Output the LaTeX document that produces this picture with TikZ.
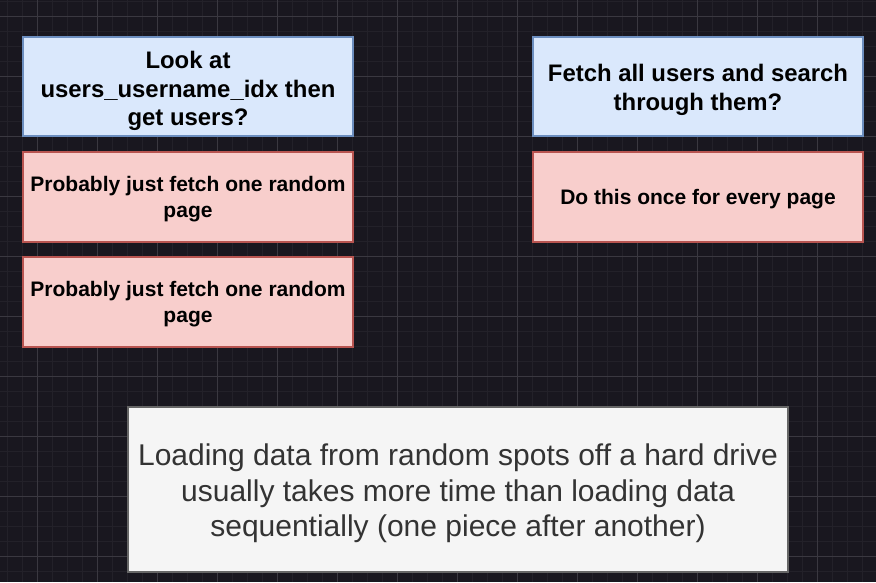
\documentclass[tikz,border=0pt]{standalone}
\usepackage{fontspec}
\setmainfont{Liberation Sans}
\definecolor{bgc}{HTML}{19171F}
\definecolor{gmajor}{HTML}{3A3840}
\definecolor{gminor}{HTML}{232129}
\definecolor{bluefill}{HTML}{DAE8FC}
\definecolor{blueline}{HTML}{6C8EBF}
\definecolor{redfill}{HTML}{F8CECC}
\definecolor{redline}{HTML}{B85450}
\definecolor{grayfill}{HTML}{F5F5F5}
\definecolor{grayline}{HTML}{666666}
\definecolor{graytext}{HTML}{333333}
\tikzset{
  box/.style={draw, line width=1.2pt, inner sep=0pt},
  bluebox/.style={box, fill=bluefill, draw=blueline},
  redbox/.style={box, fill=redfill, draw=redline},
  graybox/.style={box, fill=grayfill, draw=grayline},
  bluetext/.style={align=center, inner sep=0pt, font=\fontsize{23.9}{28.5}\selectfont\bfseries},
  redtext/.style={align=center, inner sep=0pt, font=\fontsize{21}{26}\selectfont\bfseries},
  graytextstyle/.style={align=center, inner sep=0pt, text=graytext, font=\fontsize{30}{35.5}\selectfont},
}
\begin{document}
\begin{tikzpicture}[x=1pt,y=-1pt]
\fill[bgc] (0,0) rectangle (876,582);
\useasboundingbox (0,0) rectangle (876,582);
\foreach \i in {0,...,58} {\draw[gminor, line width=1pt] ({7.3+15*\i},0) -- ({7.3+15*\i},582);}
\foreach \i in {0,...,39} {\draw[gminor, line width=1pt] (0,{1.3+15*\i}) -- (876,{1.3+15*\i});}
\foreach \i in {0,...,14} {\draw[gmajor, line width=1pt] ({37.3+60*\i},0) -- ({37.3+60*\i},582);}
\foreach \i in {0,...,9} {\draw[gmajor, line width=1pt] (0,{16.3+60*\i}) -- (876,{16.3+60*\i});}

\node[bluebox, minimum width=330, minimum height=99] (b1) at (188,86.5) {};
\node[bluetext] (t1) at ([yshift=-4.5pt]b1.center) {Look at\\users\_username\_idx then\\get users?};
\node[redbox, minimum width=330, minimum height=90] (r1) at (188,197) {};
\node[redtext] (t2) at ([yshift=-2.5pt]r1.center) {Probably just fetch one random\\page};
\node[redbox, minimum width=330, minimum height=90] (r2) at (188,302) {};
\node[redtext] (t3) at ([yshift=-2.5pt]r2.center) {Probably just fetch one random\\page};
\node[bluebox, minimum width=330, minimum height=99] (b2) at (698,86.5) {};
\node[bluetext] (t4) at ([yshift=-3.5pt]b2.center) {Fetch all users and search\\through them?};
\node[redbox, minimum width=330, minimum height=90] (r3) at (698,197) {};
\node[redtext] (t5) at ([yshift=-2.5pt]r3.center) {Do this once for every page};
\node[graybox, minimum width=660, minimum height=165] (g1) at (458,489.5) {};
\node[graytextstyle] (t6) at ([yshift=-4pt]g1.center) {Loading data from random spots off a hard drive\\usually takes more time than loading data\\sequentially (one piece after another)};
\end{tikzpicture}
\end{document}
